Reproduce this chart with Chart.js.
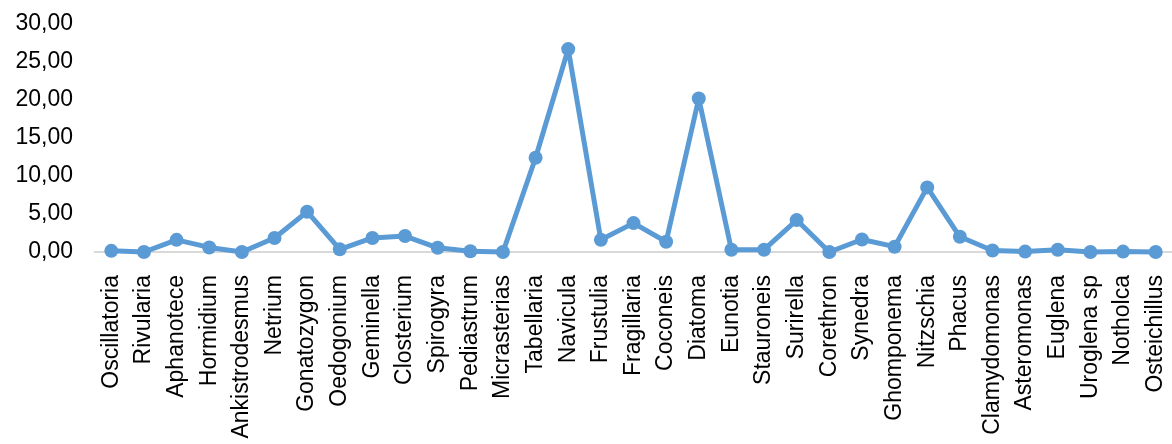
<!DOCTYPE html>
<html>
<head>
<meta charset="utf-8">
<script src="https://cdn.jsdelivr.net/npm/chart.js@4"></script>
<style>
html,body{margin:0;padding:0;background:#fff;overflow:hidden;}
#wrap{position:relative;width:1172px;height:444px;}
</style>
</head>
<body>
<div id="wrap"><canvas id="c"></canvas></div>
<script>
const categories = ["Oscillatoria","Rivularia","Aphanotece","Hormidium","Ankistrodesmus","Netrium","Gonatozygon","Oedogonium","Geminella","Closterium","Spirogyra","Pediastrum","Micrasterias","Tabellaria","Navicula","Frustulia","Fragillaria","Coconeis","Diatoma","Eunotia","Stauroneis","Surirella","Corethron","Synedra","Ghomponema","Nitzschia","Phacus","Clamydomonas","Asteromonas","Euglena","Uroglena sp","Notholca","Osteichillus"];
const values = [0.15,0.0,1.6,0.6,0.0,1.85,5.3,0.35,1.85,2.1,0.55,0.1,0.0,12.4,26.7,1.6,3.8,1.35,20.2,0.3,0.3,4.2,0.0,1.65,0.7,8.5,2.0,0.2,0.05,0.3,0.0,0.05,0.0];
const yTicks = [0,5,10,15,20,25,30];

const font = {family:"'Liberation Sans', Arial, sans-serif", size:23};
new Chart(document.getElementById('c'), {
  type:'line',
  data:{labels:categories, datasets:[{
    data:values,
    borderColor:'#5B9BD5',
    backgroundColor:'#5B9BD5',
    borderWidth:5,
    borderJoinStyle:'round',
    borderCapStyle:'round',
    pointRadius:7,
    pointHoverRadius:7,
    pointBorderWidth:0,
    tension:0,
    fill:false,
    clip:false
  }]},
  options:{
    responsive:true,
    maintainAspectRatio:false,
    animation:false,
    layout:{autoPadding:false,padding:{top:24,right:0,left:0,bottom:0}},
    plugins:{legend:{display:false},tooltip:{enabled:false}},
    scales:{
      x:{
        type:'category',
        offset:true,
        grid:{display:false,drawTicks:false},
        border:{display:true,color:'#D9D9D9',width:2},
        ticks:{color:'#000',font:font,maxRotation:90,minRotation:90,padding:23,autoSkip:false},
        afterFit:(s)=>{s.height=192;s.paddingLeft=0;s.paddingRight=0;}
      },
      y:{
        min:0,max:30,
        grid:{display:false,drawTicks:false},
        border:{display:false},
        afterBuildTicks:(s)=>{s.ticks=yTicks.map(v=>({value:v}));},
        ticks:{color:'#000',font:font,padding:22,
          callback:(v)=>Number(v).toFixed(2).replace('.',',')},
        afterFit:(s)=>{s.width=95;s.paddingTop=0;s.paddingBottom=0;}
      }
    }
  }
});
</script>
</body>
</html>
